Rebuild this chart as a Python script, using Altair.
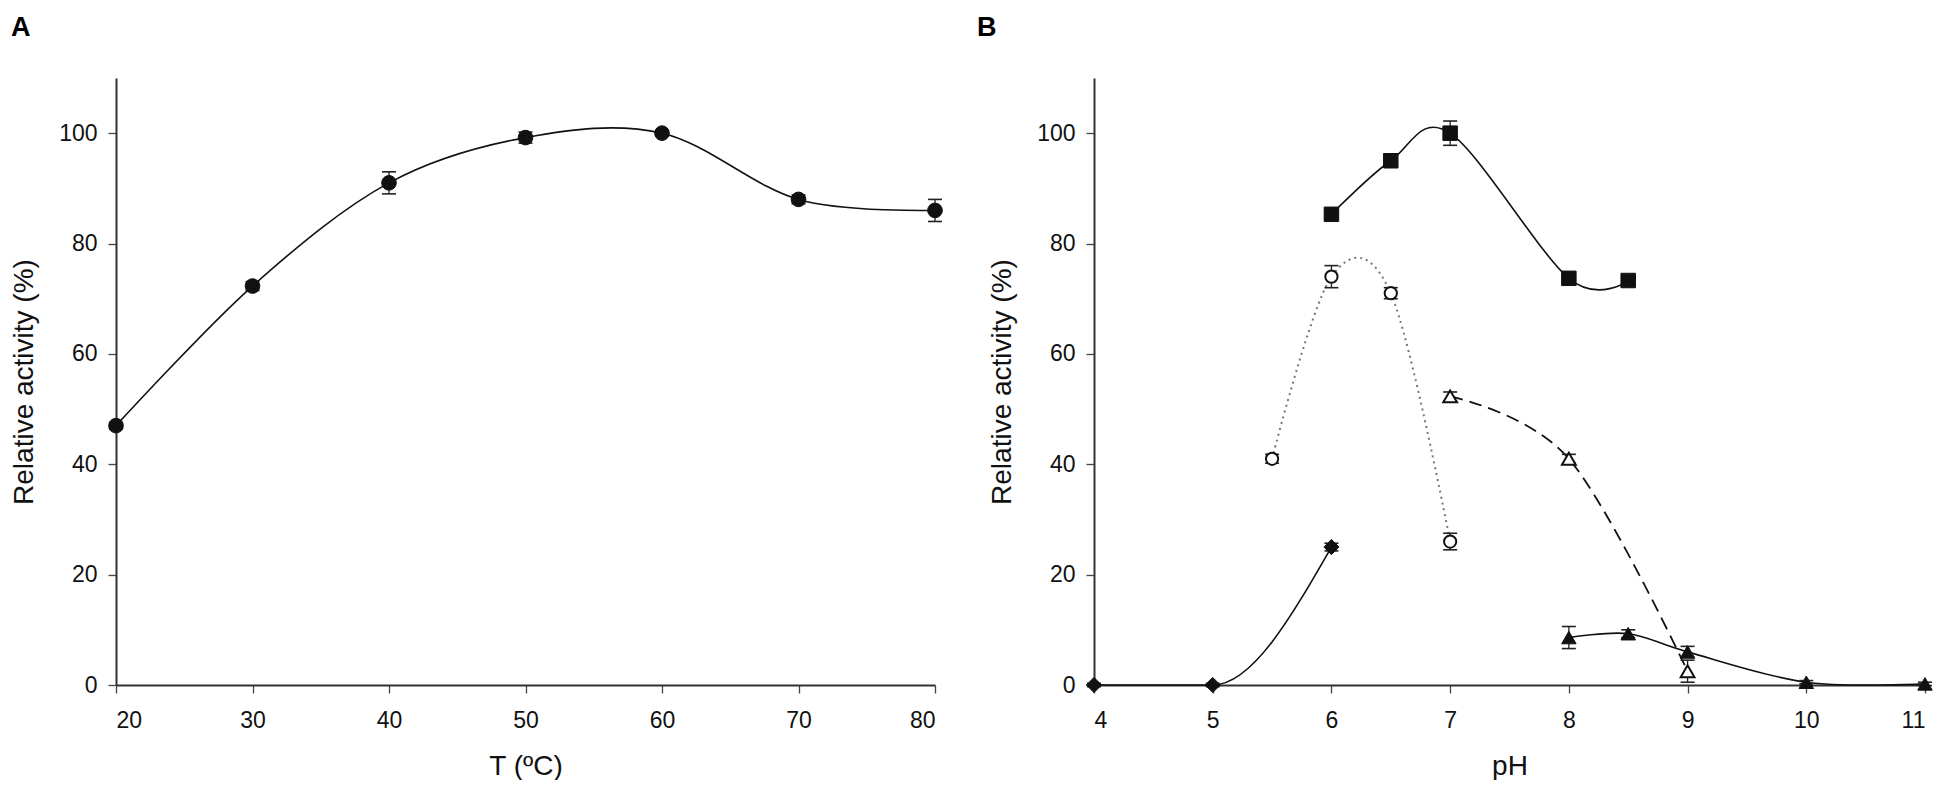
import altair as alt
import pandas as pd

# ---------------- Panel A: temperature ----------------
temp_x = [20, 30, 40, 50, 60, 70, 80]
temp_y = [47.0, 72.3, 91.0, 99.2, 100.0, 88.0, 86.0]
temp_err = [0.6, 0.8, 2.0, 1.0, 0.5, 0.8, 2.0]

# ---------------- Panel B: pH ----------------
sq_x = [6, 6.5, 7, 8, 8.5]
sq_y = [85.3, 95.0, 100.0, 73.7, 73.3]
sq_err = [0.8, 1.0, 2.2, 1.0, 0.6]

oc_x = [5.5, 6, 6.5, 7]
oc_y = [41.0, 74.0, 71.0, 26.0]
oc_err = [0.8, 2.0, 1.0, 1.5]

ot_x = [7, 8, 9]
ot_y = [52.3, 41.0, 2.5]
ot_err = [0.8, 0.8, 2.0]

ft_x = [8, 8.5, 9, 10, 11]
ft_y = [8.6, 9.3, 6.0, 0.5, 0.2]
ft_err = [2.0, 0.7, 1.0, 0.3, 0.3]

dm_x = [4, 5, 6]
dm_y = [0.0, 0.0, 25.0]
dm_err = [0.3, 0.3, 0.7]

y_ticks = [0, 20, 40, 60, 80, 100]
temp_ticks = [20, 30, 40, 50, 60, 70, 80]
ph_ticks = [4, 5, 6, 7, 8, 9, 10, 11]

FONT = "Liberation Sans"
INK = "#111111"


def make_df(x, y, err):
    return pd.DataFrame({
        "x": x,
        "y": y,
        "lo": [a - b for a, b in zip(y, err)],
        "hi": [a + b for a, b in zip(y, err)],
    })


def panel(series, xdomain, xticks, xtitle, width, letter, letter_x):
    xs = alt.Scale(domain=xdomain, nice=False, zero=False)
    ys = alt.Scale(domain=[0, 110], nice=False)
    xaxis = alt.Axis(values=xticks, title=xtitle, grid=False, format="d")
    yaxis = alt.Axis(values=y_ticks, title="Relative activity (%)", grid=False)
    X = alt.X("x:Q", scale=xs, axis=xaxis)
    layers = []
    # lines first
    for s in series:
        df = make_df(s["x"], s["y"], s["err"])
        line_kw = dict(color=s.get("lcolor", INK), strokeWidth=s.get("lw", 1.6),
                       interpolate=s.get("interp", "cardinal"))
        if s.get("dash"):
            line_kw["strokeDash"] = s["dash"]
        layers.append(
            alt.Chart(df).mark_line(**line_kw).encode(
                x=X, y=alt.Y("y:Q", scale=ys, axis=yaxis))
        )
    # error bars
    for s in series:
        df = make_df(s["x"], s["y"], s["err"])
        base = alt.Chart(df)
        layers.append(base.mark_rule(color="#222222", strokeWidth=1.3).encode(
            x=X, y=alt.Y("lo:Q", scale=ys, axis=yaxis), y2="hi:Q"))
        for fld in ["lo", "hi"]:
            layers.append(base.mark_tick(orient="horizontal", size=14, thickness=1.6,
                                         color="#222222", opacity=1).encode(
                x=X, y=alt.Y(f"{fld}:Q", scale=ys, axis=yaxis)))
    # markers
    for s in series:
        df = make_df(s["x"], s["y"], s["err"])
        pk = dict(shape=s["shape"], size=s["size"], filled=True, opacity=1,
                  stroke=INK, strokeWidth=s.get("sw", 1.0))
        pk["fill"] = "white" if s["open"] else INK
        layers.append(alt.Chart(df).mark_point(**pk).encode(
            x=X, y=alt.Y("y:Q", scale=ys, axis=yaxis)))
    # panel letter
    layers.append(
        alt.Chart(pd.DataFrame({"t": [letter]})).mark_text(
            font=FONT, fontSize=27, fontWeight="bold", align="left",
            baseline="top", color="#000000").encode(
            text="t:N", x=alt.value(letter_x), y=alt.value(-63))
    )
    return alt.layer(*layers).properties(width=width, height=607)


series_a = [
    dict(x=temp_x, y=temp_y, err=temp_err, shape="circle", size=215, open=False),
]

series_b = [
    dict(x=dm_x, y=dm_y, err=dm_err, shape="diamond", size=230, open=False,
         interp="monotone"),
    dict(x=sq_x, y=sq_y, err=sq_err, shape="square", size=210, open=False),
    dict(x=oc_x, y=oc_y, err=oc_err, shape="circle", size=150, open=True,
         dash=[2, 4], lcolor="#777777", lw=2.0, sw=2.0),
    dict(x=ot_x, y=ot_y, err=ot_err, shape="triangle-up", size=190, open=True,
         dash=[13, 7], lw=1.8, sw=2.0),
    dict(x=ft_x, y=ft_y, err=ft_err, shape="triangle-up", size=210, open=False),
]

chart_a = panel(series_a, [20, 80], temp_ticks, "T (ºC)", 819, "A", -105)
chart_b = panel(series_b, [4, 11], ph_ticks, "pH", 831, "B", -117)

chart = alt.hconcat(chart_a, chart_b, spacing=159, bounds="flush").properties(
    padding={"left": 2, "top": 6, "right": 0, "bottom": 0}
).configure_view(stroke=None).configure_axis(
    domainColor="#333333", domainWidth=2, tickColor="#444444", tickWidth=1.3,
    tickSize=8, labelFont=FONT, labelFontSize=23, labelColor=INK,
    labelPadding=11, titleFont=FONT, titleFontSize=28, titleFontWeight="normal",
    titleColor=INK, titlePadding=20
).configure_axisBottom(labelPadding=16, titlePadding=20)

chart.save("out.html", embed_options={"renderer": "svg", "actions": False})
